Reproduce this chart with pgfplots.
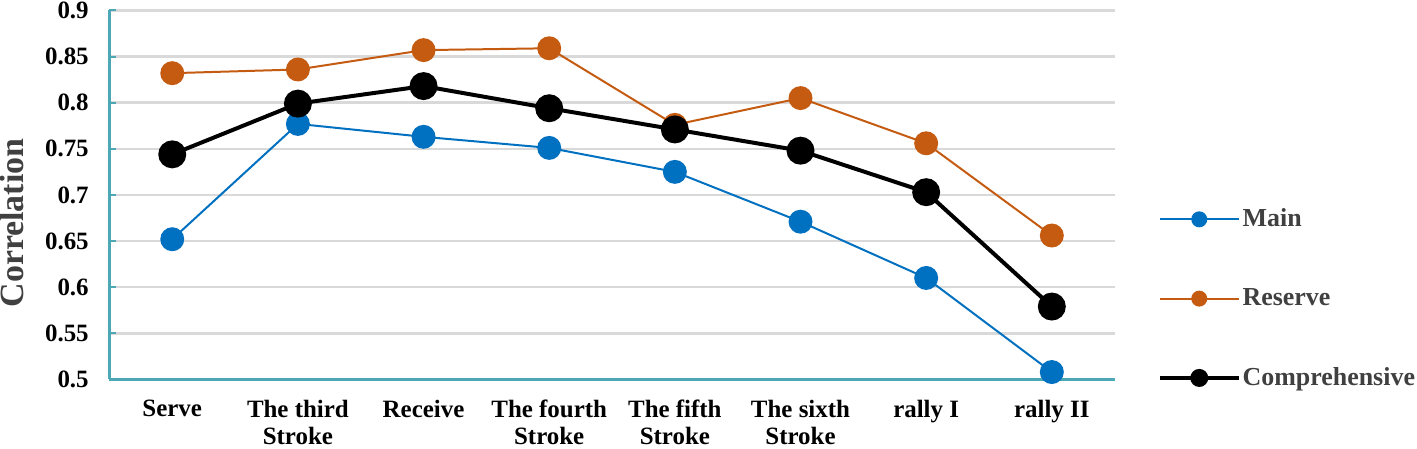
\documentclass[border=0pt]{standalone}
\usepackage{pgfplots}
\pgfplotsset{compat=1.18}
\usepackage{fontspec}
\setmainfont{Liberation Serif}
\definecolor{mainblue}{HTML}{0070C0}
\definecolor{reserveor}{HTML}{C55A11}
\definecolor{gridgray}{HTML}{D9D9D9}
\definecolor{axteal}{HTML}{4BA8B4}
\definecolor{txtgray}{HTML}{404040}
\begin{document}
\begin{tikzpicture}
\begin{axis}[
  scale only axis, width=504pt, height=185pt,
  xmin=-0.5, xmax=7.5, ymin=0.5, ymax=0.9,
  clip=false,
  axis lines=left,
  axis line style={-, line width=1.3pt, color=axteal},
  xtick={0,1,2,3,4,5,6,7},
  xticklabels={Serve, The third\\Stroke, Receive, The fourth\\Stroke, The fifth\\Stroke, The sixth\\Stroke, rally I, rally II},
  xticklabel style={align=center, font=\fontsize{12.5}{13.5}\selectfont\bfseries, inner sep=2pt, yshift=-8.2pt, anchor=north},
  x tick style={draw=none},
  ytick={0.5,0.55,0.6,0.65,0.7,0.75,0.8,0.85,0.9},
  yticklabels={0.5,0.55,0.6,0.65,0.7,0.75,0.8,0.85,0.9},
  yticklabel style={font=\fontsize{12.5}{13.5}\selectfont\bfseries, inner sep=1pt, xshift=-9.2pt},
  y tick style={color=axteal, line width=1pt},
  tick align=inside, major tick length=3.5pt,
  ymajorgrids, y grid style={gridgray, line width=1.3pt},
  ylabel={Correlation},
  ylabel style={font=\fontsize{17}{19}\selectfont\bfseries, text=txtgray, inner sep=0pt, at={(axis description cs:-0.097,0.424)}, anchor=center, rotate=0},
  legend style={draw=none, fill=none, inner sep=0pt, outer sep=0pt, nodes={inner sep=1pt}, at={(axis description cs:1.043,0.219)}, anchor=west, row sep=27.5pt, font=\fontsize{13}{15}\selectfont\bfseries, text=txtgray, cells={anchor=west}},
  legend image code/.code={\draw[mark repeat=2,mark phase=2,#1,mark size=3.5pt] plot coordinates {(0pt,0pt) (19.75pt,0pt) (39.5pt,0pt)};},
]
\addplot[mainblue, line width=1pt, mark=*, mark size=5.5pt, mark options={fill=mainblue, draw=mainblue}] coordinates {
(0,0.652) (1,0.777) (2,0.763) (3,0.751) (4,0.725) (5,0.671) (6,0.610) (7,0.508)};
\addlegendentry{Main}
\addplot[reserveor, line width=1pt, mark=*, mark size=5.5pt, mark options={fill=reserveor, draw=reserveor}] coordinates {
(0,0.832) (1,0.836) (2,0.857) (3,0.859) (4,0.776) (5,0.805) (6,0.756) (7,0.656)};
\addlegendentry{Reserve}
\addplot[black, line width=2pt, mark=*, mark size=6pt, mark options={fill=black, draw=black}] coordinates {
(0,0.744) (1,0.799) (2,0.818) (3,0.794) (4,0.771) (5,0.748) (6,0.703) (7,0.579)};
\addlegendentry{Comprehensive}
\end{axis}
\end{tikzpicture}
\end{document}
